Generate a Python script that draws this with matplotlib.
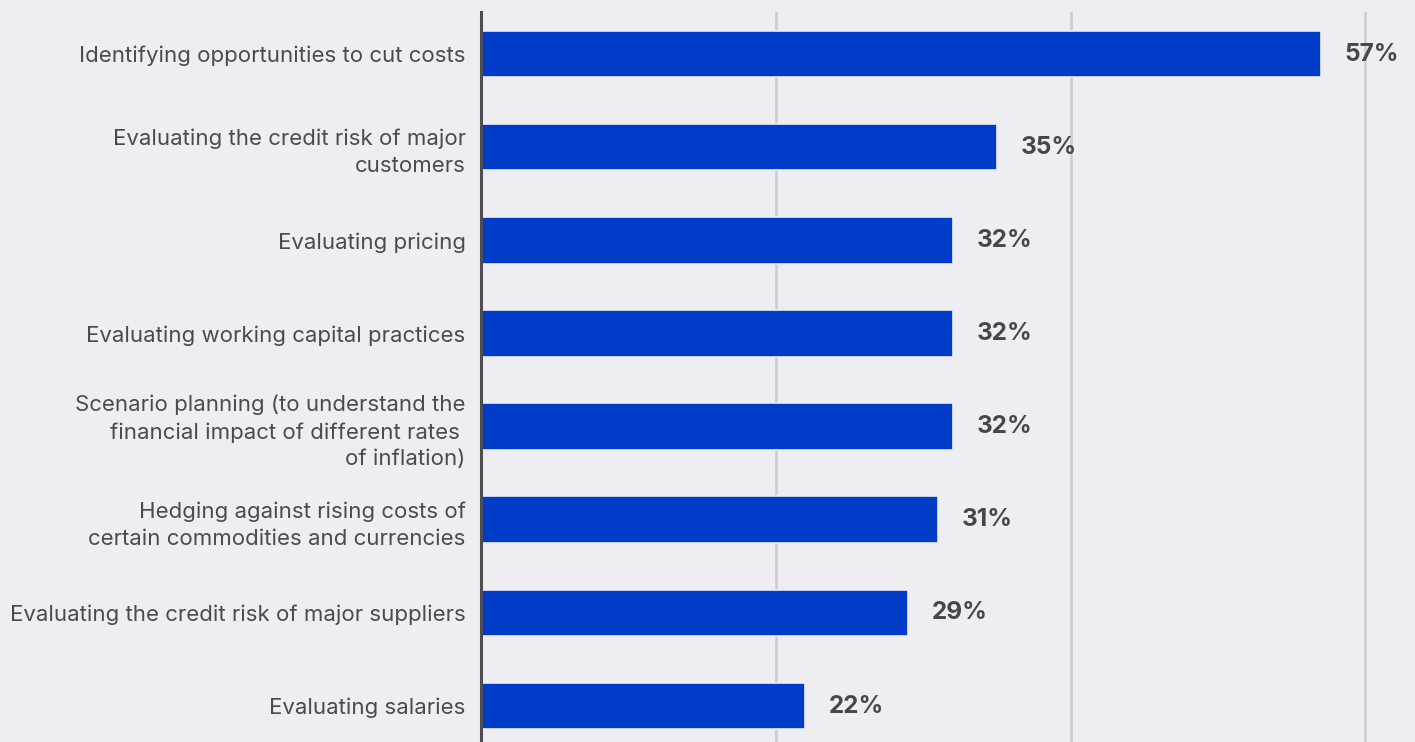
import matplotlib.pyplot as plt

labels = [
    "Identifying opportunities to cut costs",
    "Evaluating the credit risk of major\ncustomers",
    "Evaluating pricing",
    "Evaluating working capital practices",
    "Scenario planning (to understand the\nfinancial impact of different rates \nof inflation)",
    "Hedging against rising costs of\ncertain commodities and currencies",
    "Evaluating the credit risk of major suppliers",
    "Evaluating salaries",
]
values = [57, 35, 32, 32, 32, 31, 29, 22]
ticks = [0, 20, 40, 60]

bg = "#EEEDF2"
blue = "#003CC8"

plt.rcParams['font.family'] = ['Inter', 'DejaVu Sans']

fig = plt.figure(figsize=(14.15, 7.42), dpi=100, facecolor=bg)
ax = fig.add_axes([481 / 1415, 0, 1 - 481 / 1415, 730 / 742])
ax.set_facecolor(bg)

pos = list(range(len(values)))
ax.barh(pos, values, height=0.5, color=blue, edgecolor=bg, linewidth=1.2, zorder=3)

for p, v in zip(pos, values):
    ax.text(v + 1.6, p, f"{v}%", va="center", ha="left", fontsize=17.5,
            fontweight="bold", color="#47464b", zorder=4)

ax.set_xlim(0, 934 / 14.74)
ax.set_ylim(7.386, -0.451)
ax.set_xticks(ticks)
ax.set_xticklabels([])
ax.tick_params(axis="x", length=0)
ax.grid(axis="x", color="#CFCED4", linewidth=2, zorder=0)

ax.set_yticks(pos)
ax.set_yticklabels(labels, fontsize=16, color="#4b4a50", linespacing=1.42)
ax.tick_params(axis="y", length=0, pad=11)

for s in ["top", "right", "bottom"]:
    ax.spines[s].set_visible(False)
ax.spines["left"].set_color("#4e4d52")
ax.spines["left"].set_linewidth(2.2)
ax.spines["left"].set_zorder(5)

fig.savefig("out.png", dpi=100, facecolor=bg)
